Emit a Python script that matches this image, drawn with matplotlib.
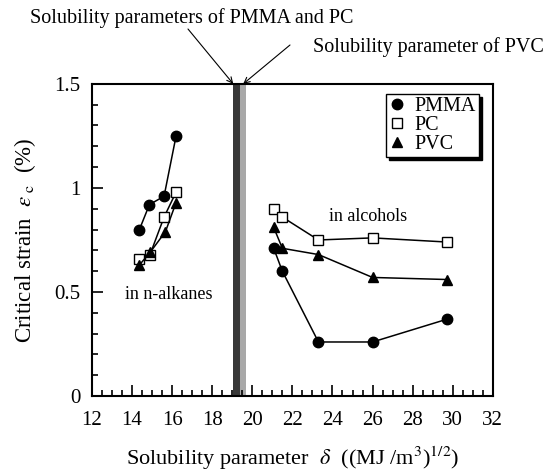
import matplotlib
matplotlib.use('Agg')
import matplotlib.pyplot as plt
from matplotlib.ticker import MultipleLocator, FormatStrFormatter

plt.rcParams['font.family'] = 'Liberation Serif'
plt.rcParams['mathtext.fontset'] = 'stix'

# n-alkanes (left group)
alk_pmma_x = [14.37, 14.87, 15.6, 16.2]
alk_pmma_y = [0.80, 0.92, 0.96, 1.25]
alk_pc_x = [14.37, 14.9, 15.6, 16.2]
alk_pc_y = [0.66, 0.68, 0.86, 0.98]
alk_pvc_x = [14.37, 14.9, 15.67, 16.2]
alk_pvc_y = [0.63, 0.69, 0.79, 0.93]

# alcohols (right group)
alc_x = [21.07, 21.5, 23.3, 26.0, 29.73]
alc_pmma_y = [0.71, 0.60, 0.26, 0.26, 0.37]
alc_pc_y = [0.90, 0.86, 0.75, 0.76, 0.74]
alc_pvc_y = [0.81, 0.71, 0.68, 0.57, 0.56]

# solubility parameter bands of the polymers
pmma_pc_band = (19.03, 19.37)
pvc_band = (19.37, 19.7)

fig = plt.figure(figsize=(5.47, 4.71), dpi=100)
ax = fig.add_axes([0.168, 0.159, 0.733, 0.663])

ax.axvspan(*pmma_pc_band, color='#383838', lw=0, zorder=1)
ax.axvspan(*pvc_band, color='#a8a8a8', lw=0, zorder=1)

mk = dict(color='k', lw=1.1, ms=7.5, mec='k', zorder=3)
ax.plot(alk_pmma_x, alk_pmma_y, marker='o', mfc='k', label='PMMA', **mk)
ax.plot(alk_pc_x, alk_pc_y, marker='s', mfc='white', label='PC', **mk)
ax.plot(alk_pvc_x, alk_pvc_y, marker='^', mfc='k', label='PVC', **mk)
ax.plot(alc_x, alc_pmma_y, marker='o', mfc='k', **mk)
ax.plot(alc_x, alc_pc_y, marker='s', mfc='white', **mk)
ax.plot(alc_x, alc_pvc_y, marker='^', mfc='k', **mk)

ax.text(15.85, 0.49, 'in n-alkanes', ha='center', va='center', fontsize=13)
ax.text(25.8, 0.865, 'in alcohols', ha='center', va='center', fontsize=13)

ax.set_xlim(12, 32)
ax.set_ylim(0, 1.5)
ax.xaxis.set_major_locator(MultipleLocator(2))
ax.xaxis.set_minor_locator(MultipleLocator(0.5))
ax.yaxis.set_major_locator(MultipleLocator(0.5))
ax.yaxis.set_minor_locator(MultipleLocator(0.1))
ax.yaxis.set_major_formatter(FormatStrFormatter('%g'))
ax.tick_params(which='both', direction='in', top=False, right=False,
               labelsize=15, width=1.2)
ax.tick_params(axis='x', which='major', length=8, pad=11)
ax.tick_params(axis='y', which='major', length=8, pad=8)
ax.tick_params(which='minor', length=4)
for s in ax.spines.values():
    s.set_linewidth(1.5)

ax.set_xlabel(r'Solubility parameter  $\delta$  ((MJ /m$^3$)$^{1/2}$)',
              fontsize=16, labelpad=10)
ax.set_ylabel(r'Critical strain  $\varepsilon_{\rm \ c}$  (%)', fontsize=16.5,
              labelpad=12)

leg = ax.legend(loc='upper right', bbox_to_anchor=(0.965, 0.968), fontsize=14.5,
                frameon=True, fancybox=False, shadow={'color': 'k', 'alpha': 1},
                handlelength=0.8, handletextpad=0.45, borderpad=0.15,
                labelspacing=0.0, borderaxespad=0)
leg.get_frame().set_edgecolor('k')
leg.get_frame().set_linewidth(1.0)
for h in leg.get_lines():
    h.set_linestyle('none')

# labels of the two bands with arrows down to the top spine
fig.text(30 / 547, 1 - 18 / 471, 'Solubility parameters of PMMA and PC',
         fontsize=14.5, ha='left', va='center')
fig.text(544 / 547, 1 - 47 / 471, 'Solubility parameter of PVC',
         fontsize=14.5, ha='right', va='center')
arrow = dict(arrowstyle='->', color='k', lw=0.8, shrinkA=0, shrinkB=0)
ax.annotate('', xy=(19.05, 1.5), xycoords='data',
            xytext=(188 / 547, 1 - 29 / 471), textcoords='figure fraction',
            arrowprops=arrow, annotation_clip=False)
ax.annotate('', xy=(19.55, 1.5), xycoords='data',
            xytext=(290 / 547, 1 - 45 / 471), textcoords='figure fraction',
            arrowprops=arrow, annotation_clip=False)

fig.savefig('out.png', dpi=100)
